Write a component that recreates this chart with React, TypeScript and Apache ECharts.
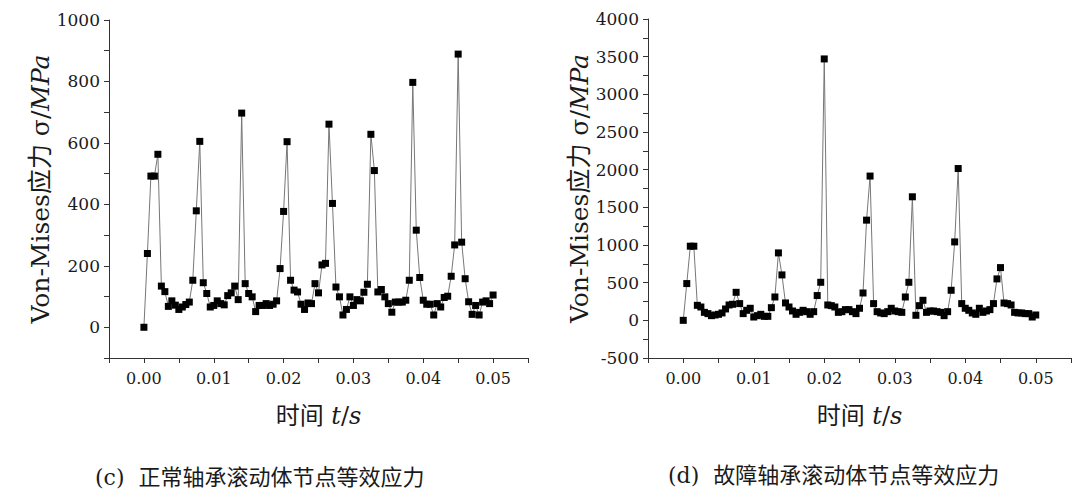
import * as echarts from "echarts"
import { useEffect, useRef } from "react"

// time steps, s
const times = [
  0, 0.0005, 0.001, 0.0015, 0.002, 0.0025, 0.003, 0.0035, 0.004, 0.0045,
  0.005, 0.0055, 0.006, 0.0065, 0.007, 0.0075, 0.008, 0.0085, 0.009, 0.0095,
  0.01, 0.0105, 0.011, 0.0115, 0.012, 0.0125, 0.013, 0.0135, 0.014, 0.0145,
  0.015, 0.0155, 0.016, 0.0165, 0.017, 0.0175, 0.018, 0.0185, 0.019, 0.0195,
  0.02, 0.0205, 0.021, 0.0215, 0.022, 0.0225, 0.023, 0.0235, 0.024, 0.0245,
  0.025, 0.0255, 0.026, 0.0265, 0.027, 0.0275, 0.028, 0.0285, 0.029, 0.0295,
  0.03, 0.0305, 0.031, 0.0315, 0.032, 0.0325, 0.033, 0.0335, 0.034, 0.0345,
  0.035, 0.0355, 0.036, 0.0365, 0.037, 0.0375, 0.038, 0.0385, 0.039, 0.0395,
  0.04, 0.0405, 0.041, 0.0415, 0.042, 0.0425, 0.043, 0.0435, 0.044, 0.0445,
  0.045, 0.0455, 0.046, 0.0465, 0.047, 0.0475, 0.048, 0.0485, 0.049, 0.0495,
  0.05,
]

// (c) 正常轴承, MPa
const normalStress = [
  0, 240, 492, 492, 563, 134, 116, 68, 86, 72,
  58, 66, 74, 82, 153, 379, 605, 145, 110, 66,
  71, 86, 77, 73, 103, 112, 134, 90, 697, 142,
  110, 99, 51, 71, 71, 77, 71, 75, 86, 191,
  377, 604, 153, 121, 115, 75, 58, 79, 77, 142,
  112, 203, 208, 661, 403, 131, 99, 40, 58, 99,
  71, 90, 86, 114, 140, 628, 510, 115, 123, 99,
  77, 49, 82, 82, 82, 88, 153, 797, 316, 162,
  88, 75, 75, 40, 77, 66, 97, 101, 166, 268,
  889, 277, 158, 83, 42, 71, 40, 82, 86, 77,
  105,
]

// (d) 故障轴承, MPa
const faultStress = [
  0, 488, 984, 984, 199, 177, 106, 89, 62, 71,
  80, 98, 151, 204, 213, 372, 222, 89, 133, 160,
  44, 62, 80, 53, 53, 168, 310, 895, 603, 231,
  177, 124, 80, 106, 133, 115, 80, 115, 329, 505,
  3470, 204, 195, 177, 106, 115, 142, 142, 115, 89,
  160, 363, 1330, 1915, 222, 115, 98, 89, 115, 160,
  124, 115, 106, 310, 505, 1640, 67, 195, 266, 106,
  124, 124, 115, 106, 62, 115, 399, 1041, 2015, 222,
  160, 133, 98, 80, 160, 106, 124, 142, 222, 550,
  700, 230, 222, 204, 106, 98, 98, 89, 89, 44,
  71,
]

const yNameText = "Von-Mises应力 σ/{i|MPa}"
const xNameText = "时间 {i|t}/{i|s}"
const captions = ["(c)  正常轴承滚动体节点等效应力", "(d)  故障轴承滚动体节点等效应力"]

const SERIF = "'DejaVu Serif', 'Noto Sans CJK SC', serif"
const INK = "#1a1a1a"

function xAxis(gridIndex: number) {
  return {
    type: "value",
    gridIndex,
    min: -0.005,
    max: 0.055,
    interval: 0.005,
    name: xNameText,
    nameLocation: "middle",
    nameGap: 46,
    nameTextStyle: {
      fontFamily: SERIF,
      fontSize: 24,
      color: INK,
      rich: { i: { fontFamily: SERIF, fontSize: 24, fontStyle: "italic", color: INK } },
    },
    axisLine: { onZero: false, lineStyle: { color: "#333", width: 1 } },
    axisTick: { show: true, length: 5, lineStyle: { color: "#333" } },
    axisLabel: {
      margin: 12,
      fontFamily: SERIF,
      fontSize: 16,
      color: INK,
      formatter: (v: number) => {
        const k = Math.round(v * 1000)
        return k >= 0 && k <= 50 && k % 10 === 0 ? (k / 1000).toFixed(2) : ""
      },
    },
    splitLine: { show: false },
  }
}

function yAxis(gridIndex: number, min: number, max: number, interval: number, step: number, gap: number) {
  return {
    type: "value",
    gridIndex,
    min,
    max,
    interval,
    name: yNameText,
    nameLocation: "middle",
    nameGap: gap,
    nameTextStyle: {
      fontFamily: SERIF,
      fontSize: 25,
      color: INK,
      rich: { i: { fontFamily: SERIF, fontSize: 25, fontStyle: "italic", color: INK } },
    },
    axisLine: { show: true, onZero: false, lineStyle: { color: "#333", width: 1 } },
    axisTick: { show: true, length: 5, lineStyle: { color: "#333" } },
    axisLabel: {
      margin: 9,
      fontFamily: SERIF,
      fontSize: 17,
      color: INK,
      formatter: (v: number) => (Math.round(v) % step === 0 && v >= min ? String(Math.round(v)) : ""),
    },
    splitLine: { show: false },
  }
}

function stressSeries(values: number[], idx: number) {
  return {
    type: "line",
    xAxisIndex: idx,
    yAxisIndex: idx,
    data: times.map((t, i) => [t, values[i]]),
    symbol: "rect",
    symbolSize: 7,
    showAllSymbol: true,
    lineStyle: { color: "#777", width: 1 },
    itemStyle: { color: "#000" },
  }
}

function StressCharts() {
  const ref = useRef<HTMLDivElement>(null)

  useEffect(() => {
    if (!ref.current) return
    const chart = echarts.init(ref.current, null, { renderer: "svg" })
    chart.setOption({
      animation: false,
      backgroundColor: "#fff",
      grid: [
        { left: 109, top: 20, width: 419, height: 338 },
        { left: 648, top: 19, width: 423, height: 339 },
      ],
      xAxis: [xAxis(0), xAxis(1)],
      yAxis: [
        yAxis(0, -100, 1000, 100, 200, 56),
        yAxis(1, -500, 4000, 250, 500, 55),
      ],
      series: [stressSeries(normalStress, 0), stressSeries(faultStress, 1)],
      graphic: [
        {
          type: "text",
          left: 95,
          top: 466,
          style: { text: captions[0], font: `22px ${SERIF}`, fill: INK },
        },
        {
          type: "text",
          left: 668,
          top: 464,
          style: { text: captions[1], font: `22px ${SERIF}`, fill: INK },
        },
      ],
    })
    return () => chart.dispose()
  }, [])

  return <div ref={ref} style={{ width: 1080, height: 497 }} />
}

export default function App() {
  return (
    <div style={{ position: "fixed", left: 0, top: 0, width: 1080, height: 497, background: "#fff" }}>
      <StressCharts />
    </div>
  )
}
